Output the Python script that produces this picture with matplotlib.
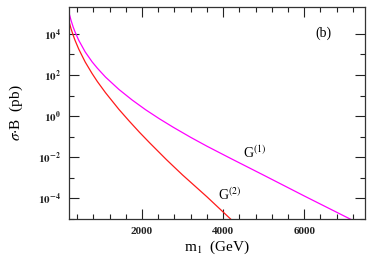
import matplotlib
matplotlib.use('Agg')
import matplotlib.pyplot as plt
import numpy as np
from matplotlib.ticker import FixedLocator, NullFormatter

plt.rcParams['font.family'] = ['Liberation Serif', 'DejaVu Serif']
plt.rcParams['mathtext.fontset'] = 'stix'

# G(1) curve: mass (GeV) and log10(sigma*B / pb)
m_g1 = [200, 250, 300, 350, 440, 600, 770, 900, 1100, 1430, 1760, 2090, 2430, 2770, 3200, 3600, 4180, 5000, 6000, 7130, 7250]
log_g1 = [5.02, 4.66, 4.35, 4.09, 3.69, 3.12, 2.64, 2.33, 1.90, 1.30, 0.78, 0.31, -0.13, -0.54, -1.03, -1.46, -2.05, -2.87, -3.88, -5.00, -5.12]

# G(2) curve
m_g2 = [200, 250, 300, 350, 440, 600, 770, 900, 1100, 1430, 1680, 1940, 2190, 2600, 2770, 3000, 3600, 4140, 4200]
log_g2 = [4.61, 4.25, 3.95, 3.68, 3.26, 2.63, 2.07, 1.68, 1.14, 0.33, -0.23, -0.79, -1.30, -2.11, -2.43, -2.86, -3.92, -4.92, -5.03]

x_major = [2000, 4000, 6000]
y_major_exp = [-4, -2, 0, 2, 4]
y_minor_exp = [-5, -3, -1, 1, 3]

fig = plt.figure(figsize=(3.74, 2.57), dpi=100)
ax = fig.add_axes([0.1845, 0.148, 0.7915, 0.825])

ax.plot(m_g1, 10.0 ** np.array(log_g1), color='#ff00ff', lw=0.9)
ax.plot(m_g2, 10.0 ** np.array(log_g2), color='#ff1a1a', lw=0.9)

ax.set_yscale('log')
ax.set_xlim(200, 7500)
ax.set_ylim(1e-5, 10 ** 5.31)

ax.xaxis.set_major_locator(FixedLocator(x_major))
ax.xaxis.set_minor_locator(FixedLocator(np.arange(400, 7500, 400)))
ax.set_xticklabels([str(v) for v in x_major])

ax.yaxis.set_major_locator(FixedLocator([10.0 ** e for e in y_major_exp]))
ax.yaxis.set_minor_locator(FixedLocator([10.0 ** e for e in y_minor_exp]))
ax.set_yticklabels([r'$\mathbf{10^{%d}}$' % e for e in y_major_exp])
ax.yaxis.set_minor_formatter(NullFormatter())

ax.tick_params(which='both', direction='in', top=True, right=True, colors='#222222')
ax.tick_params(which='major', length=7, width=0.8, labelsize=8, pad=6)
ax.tick_params(which='minor', length=3.5, width=0.8)
for lab in ax.get_xticklabels() + ax.get_yticklabels():
    lab.set_fontweight('bold')
for sp in ax.spines.values():
    sp.set_linewidth(0.9)
    sp.set_color('#333333')

ax.set_xlabel(r'm$_1$  (GeV)', fontsize=11, labelpad=2)
ax.set_ylabel(r'$\sigma{\cdot}$B  (pb)', fontsize=11, labelpad=9)

ax.text(4480, 10 ** -2.2, r'G$^{(1)}$', fontsize=10, ha='left', va='bottom')
ax.text(3880, 10 ** -4.2, r'G$^{(2)}$', fontsize=10, ha='left', va='bottom')
ax.text(0.861, 0.877, '(b)', fontsize=10, ha='center', va='center', transform=ax.transAxes)

fig.savefig('out.png', dpi=100)
